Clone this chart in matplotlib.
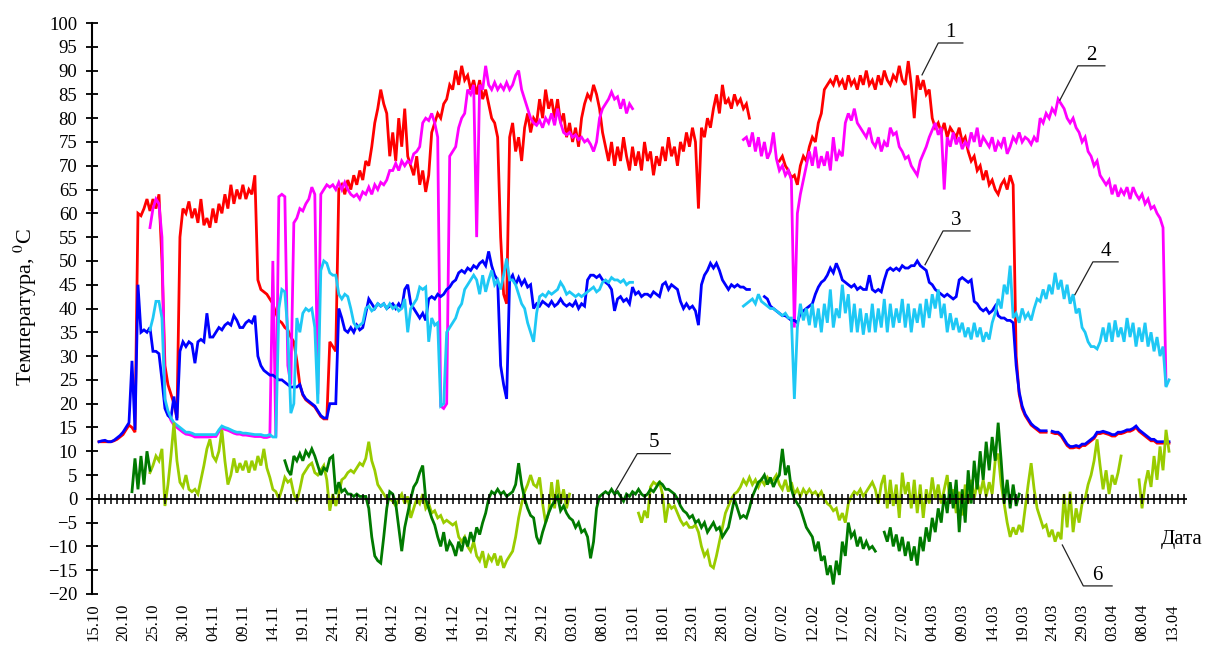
import numpy as np
import matplotlib
matplotlib.use('Agg')
import matplotlib.pyplot as plt

N = None
step = 0.5
days = np.arange(0, 180 + step / 2, step)

date_labels = ['15.10', '20.10', '25.10', '30.10', '04.11', '09.11', '14.11', '19.11', '24.11',
               '29.11', '04.12', '09.12', '14.12', '19.12', '24.12', '29.12', '03.01', '08.01',
               '13.01', '18.01', '23.01', '28.01', '02.02', '07.02', '12.02', '17.02', '22.02',
               '27.02', '04.03', '09.03', '14.03', '19.03', '24.03', '29.03', '03.04', '08.04', '13.04']

s1_red = [
    N, N, 12, 12, 12, 12, 12, 12.2, 12.5, 13, 13.5, 14.5, 15.5, 15, 14, 60, 59.5, 61, 63, 60.5,
    63, 61, 64, 50, 28, 24, 22, 20, 17, 55, 61, 60, 62.5, 59, 61, 58, 63, 57.5, 59, 57,
    61, 58, 62, 60, 64, 61, 66, 62, 65, 63, 66, 63, 65, 64, 68, 46, 44, 43.5, 43, 42,
    41, 39, 37.5, 37, 36, 35.5, 34, 33, 29, 24, 21.8, 20.8, 20.3, 19.8, 19.3, 18.3, 17.3, 16.8, 16.8, 33,
    32, 31, 65, 66, 64, 67, 65, 68, 66, 69, 67, 71, 70, 74, 79, 82, 86, 83, 81, 72,
    77, 71, 80, 74, 82, 72, 70, 68, 72, 66, 69, 64.5, 68, 77, 79, 81, 80, 83, 84, 87,
    86, 90, 87, 91, 88, 89, 86, 88, 85, 88, 84, 86, 83, 80, 79, 76, 55, 43, 41, 76,
    79, 73, 76, 71, 78, 81, 77, 80, 79, 84, 80, 86, 82, 84, 80, 84, 79, 81, 76, 79,
    75, 78, 74, 80, 83, 85, 84, 87, 85, 82, 77, 74, 71, 75, 70, 74, 71, 76, 72, 69,
    74, 70, 73, 69, 75, 71, 73, 68, 72, 70, 74, 71, 76, 72, 74, 70, 75, 73, 77, 74,
    78, 75, 61, 78, 76, 80, 78, 82, 85, 81, 87, 83, 84, 82, 85, 83, 84, 82, 83, 80,
    N, N, N, N, N, N, N, N, N, 71, 72, 70, 69, 67.5, 68, 66, 70, 72, 71, 74,
    76, 75, 79, 81, 86, 87, 88, 87, 89, 87, 88, 86, 89, 87, 88, 86, 89, 87, 90, 87,
    88, 86, 89, 87, 90, 88, 87, 89, 88, 91, 88, 87, 92, 87, 80, 89, 86, 88, 85, 86,
    80, 78, 79, 77, 79, 76, 78, 77, 76, 78, 75, 76, 73, 71, 72, 69, 70, 67, 69, 66,
    67, 65, 64, 66, 67, 65, 68, 66, 30, 22, 19, 17.5, 16.5, 15.5, 15, 14.5, 14, 14, 14, N,
    13.9, 13.7, 13.7, 13.2, 12.2, 11.2, 10.7, 10.7, 10.9, 10.7, 11.2, 11.2, 11.7, 12.2, 12.7, 13.7, 13.7, 13.9, 13.7, 13.5,
    13.2, 13.2, 13.7, 13.7, 13.9, 14.2, 14.2, 14.5, 15, 14.2, 13.7, 13.2, 12.7, 12.2, 12.2, 11.7, 11.7, 11.7, 11.7, 11.7,
    N]

s2_magenta = [
    N, N, N, N, N, N, N, N, N, N, N, N, N, N, N, N, N, N, N, 57,
    61, 63, 62, 55, 20, 18, 16.5, 15.5, 15, 14.5, 14, 13.6, 13.5, 13.3, 13, 13, 13, 13, 13, 13,
    13.1, 13.1, 14.1, 14.9, 14.6, 14.4, 14.1, 13.8, 13.6, 13.6, 13.4, 13.4, 13.3, 13.2, 13.1, 13.1, 13.1, 12.9, 12.9, 13.1,
    50, 13, 63.5, 64, 63.5, 28, 24, 58, 59, 61, 60.5, 62, 63, 65.5, 64, 22, 64, 65, 66, 65.5,
    66, 65, 66.5, 65, 66.5, 65, 64, 63.5, 64, 63, 64.5, 64, 65.5, 64, 66, 65, 66.5, 66, 67, 69,
    69, 70.5, 69, 71, 70, 71, 70.5, 72.5, 73, 74, 79, 80, 79.5, 81, 79, 76, 19.5, 19, 20, 72,
    73, 74, 78, 80, 81, 86, 85, 87, 55, 87, 86, 91, 87, 86, 87.5, 86, 87, 86, 87.5, 86,
    87, 89, 90, 86, 84, 82, 80, 79, 78.5, 79.5, 78, 80, 79, 81, 78.5, 82, 79, 77, 76.5, 77,
    76, 76.5, 75.5, 76, 75, 75.5, 74.5, 73, 75, 80, 82, 83, 84, 85.5, 84, 84.5, 82, 84, 81, 83,
    82, N, N, N, N, N, N, N, N, N, N, N, N, N, N, N, N, N, N, N,
    N, N, N, N, N, N, N, N, N, N, N, N, N, N, N, N, N, 75.5, 76, 74,
    77, 73, 76, 72, 75, 71.5, 73, 77, 71.5, 69, 70, 68, 69, 67, 36, 60, 64, 67, 70, 73,
    70, 74, 69.5, 72, 70, 73, 69, 76, 71, 73, 72, 79, 81, 79.5, 82, 79, 78, 77, 76, 78,
    75, 74, 76, 73, 75, 74, 78, 76.5, 77, 74, 73, 71.5, 72, 70, 69, 68, 71, 72.5, 74, 76,
    77.5, 79, 76.5, 78, 65, 76, 74, 77, 74.5, 76, 73.5, 75, 74, 77, 75, 78, 74, 76, 75, 74,
    76, 73, 75, 74, 76, 72.5, 74, 76, 75, 77, 75, 76, 75.5, 74.5, 76, 75, 80, 79, 81, 80,
    82, 81, 84, 83, 82, 80, 79, 80, 78, 77, 75, 76, 73, 72, 70, 71, 68, 67, 66, 67,
    64, 66, 63.5, 65, 64, 65.5, 63, 65.5, 64, 63, 64, 62, 63, 61, 61.5, 60, 59, 57, 24, N,
    N]

s3_blue = [
    N, N, 12, 12.2, 12.3, 12, 12, 12.3, 12.8, 13.3, 14, 15, 16, 29, 14.5, 45, 35, 35.5, 35, 36,
    31, 31, 30.5, 25, 19, 17.5, 17, 21.5, 16.5, 31, 33, 32, 33, 32.5, 28.5, 33, 33.5, 33, 39, 34,
    34, 35, 36, 35.5, 36.5, 37, 36.5, 38.5, 37.5, 36, 36, 37, 37.5, 37, 38.5, 30, 28, 27, 26.5, 26,
    26, 25.5, 25, 25, 24.5, 24, 23.5, 23.5, 23.5, 24, 22, 21, 20.5, 20, 19.5, 18.5, 17.5, 17, 17, 20,
    20, 20, 40, 38, 35.5, 35, 36, 35, 36.5, 35.5, 36, 39, 42, 41, 40, 41, 40.5, 41, 40, 40.5,
    41, 40, 41, 40, 44, 45, 41, 40, 39, 38, 39, 37.5, 42, 42.5, 42, 43, 42.5, 43, 44, 44.5,
    45.5, 46, 47.5, 48, 47.5, 48.5, 48, 49, 48.5, 49.5, 50, 49, 52, 49, 47, 46, 28, 24, 21, 46,
    47, 45, 46.5, 45, 46, 44.5, 45, 40, 41, 40.5, 41.5, 41, 40.5, 41.5, 40.5, 41, 42, 41, 40.5, 41,
    40.5, 41.5, 40, 41, 40.5, 46, 47, 47, 46.5, 47, 46, 45.5, 45, 44, 39.5, 42, 42.5, 41.5, 42, 41,
    44.5, 43, 43.5, 42.5, 43, 43, 42.5, 43.5, 43, 42.5, 45, 45.5, 44, 45, 44.5, 44, 41.5, 40, 41, 40,
    40.5, 39.5, 36.5, 45, 47, 48, 49.5, 48.5, 49.5, 48, 46, 45, 44, 45, 44.5, 45, 44.5, 44.5, 44, 44,
    N, N, N, N, 42.5, 42, 40.5, 40, 39.5, 39, 38.5, 38.5, 38, 37.5, 37.5, 37, 39, 39.5, 40, 40.5,
    41, 43, 44.5, 45.5, 46, 47, 48.5, 47.5, 49.5, 48, 46, 45.5, 45, 44.5, 45, 44, 44.5, 44, 44, 47,
    44, 43.5, 44, 43.5, 46, 48, 48.5, 48, 48.5, 48, 49, 48.5, 48.5, 49, 49, 50, 49, 48.5, 48, 45.5,
    45, 44, 43.5, 43, 42.5, 43, 42.5, 42, 42.5, 46, 46.5, 46, 45.5, 46, 41.5, 41, 40, 39.5, 40, 39,
    39.5, 40.5, 38.5, 38, 38, 37.5, 37.5, 37, 28, 22.5, 19.5, 17.8, 16.8, 15.8, 15.2, 14.8, 14.3, 14.3, 14.3, N,
    14.2, 14, 14, 13.5, 12.5, 11.5, 11, 11, 11.2, 11, 11.5, 11.5, 12, 12.5, 13, 14, 14, 14.2, 14, 13.8,
    13.5, 13.5, 14, 14, 14.2, 14.5, 14.5, 14.8, 15.3, 14.5, 14, 13.5, 13, 12.5, 12.5, 12, 12, 12, 12, 12,
    N]

s4_cyan = [
    N, N, N, N, N, N, N, N, N, N, N, N, N, N, N, N, N, N, N, 35.5,
    38, 41.5, 41.5, 38, 21, 18.5, 17, 16, 15.5, 15, 14.5, 14, 14, 13.8, 13.5, 13.5, 13.5, 13.5, 13.5, 13.5,
    13.5, 13.5, 14.5, 15.3, 15, 14.8, 14.5, 14.2, 14, 14, 13.8, 13.8, 13.7, 13.6, 13.5, 13.5, 13.5, 13.3, 13.3, 13.5,
    13, 13, 40, 44, 43.5, 35, 18, 20, 38, 35, 39, 40, 39.5, 40, 36, 20, 48, 50, 49.5, 47.5,
    47, 47, 43, 42, 43, 42.5, 40, 37, 36, 36.5, 37, 40, 40.5, 39.5, 40, 41, 40.5, 41, 40, 41,
    40, 40.5, 39.5, 40, 42, 35, 40, 41, 42, 44.5, 44, 44.5, 33, 38, 36.5, 37, 19.5, 20, 35, 36,
    37, 38, 40, 41, 44, 45, 46, 47, 46, 43, 47, 43.5, 46, 48, 45, 46, 44, 47, 50.5, 46,
    46, 45, 43, 41, 40, 37, 35, 33, 39, 42.5, 43, 42.5, 43.5, 43, 43.5, 44, 45.5, 44.5, 43, 43.5,
    43, 42.5, 43, 42.5, 43, 43.5, 44, 44.5, 43.5, 44, 45.5, 46, 45.5, 46.5, 46, 46, 45.5, 46, 45, 45.5,
    45.5, N, N, N, N, N, N, N, N, N, N, N, N, N, N, N, N, N, N, N,
    N, N, N, N, N, N, N, N, N, N, N, N, N, N, N, N, N, 40.5, 41, 41.5,
    42, 41, 43, 41.5, 41, 40.5, 40, 40, 39.5, 39, 38.5, 39, 38, 38, 21, 36, 41, 37.5, 40, 36.5,
    41, 36, 40, 35, 41, 37, 44, 36, 40, 38, 45, 39, 43, 35, 41, 35, 40, 34.5, 39, 35,
    41, 35, 40, 36, 42, 35, 41, 36, 40, 37, 42, 36, 41, 35, 40, 37, 41, 36, 42, 38,
    43, 40, 44, 38, 41, 35, 39, 35.5, 38, 35, 37, 34, 36, 33.5, 37, 34, 36, 33, 35, 33.5,
    37, 39, 42, 40, 45, 43, 49, 38, 39, 37, 40, 38, 39, 37.5, 40, 42, 41.5, 44, 42, 45,
    43, 47.5, 44, 46, 42, 45, 41, 43, 39, 40, 36, 35, 33, 32, 32, 31.5, 33, 36, 33, 37,
    33, 37.5, 34, 36, 33, 38, 34, 37, 32, 36, 33, 37, 32, 35, 31, 34, 30, 32, 23.5, 25,
    N]

s5_darkgreen = [
    N, N, N, N, N, N, N, N, N, N, N, N, N, 1.5, 8.5, 2, 9, 3, 10, 6,
    N, N, N, N, N, N, N, N, N, N, N, N, N, N, N, N, N, N, N, N,
    N, N, N, N, N, N, N, N, N, N, N, N, N, N, N, N, N, N, N, N,
    N, N, N, N, 8, 6, 5, 9, 8, 9.5, 8, 10, 9, 10.5, 9, 7, 5, 6.5, 6, 8.5,
    9, 1, 3.5, 1.5, 2, 1, 1, 0.5, 1, 0.5, 0.5, 0.5, -2, -8, -12, -13, -13.5, -8, -2, 1.5,
    1, -1, -6, -11, -6, -3, 0, 2.5, 3.5, 5.5, 7, 0, -2, -4, -5.5, -8, -10, -7, -11, -9,
    -10, -12, -9, -11, -8, -10, -7, -9, -6, -7.5, -5, -3, 0, 1.5, 1, 2, 1, 1.5, 0.5, 1,
    1.5, 3, 7.5, 3, 0, -2, -3.5, -4, -8, -9.5, -7, -5, -3, -1.5, -0.5, 0.5, -2.5, -1.5, -3, -4,
    -4.5, -6, -5, -7, -6.5, -8, -12.5, -9, -2, 0.5, 1, 1.5, 1, 2, 1, 1.5, 0.5, -0.5, 1, 0.5,
    1.5, 1, 2, 1, 0.5, 1, 2, 1.5, 2.5, 3.5, 3, 2, 2, 1.5, 1, 0, -1.5, -2.5, -3, -4,
    -3.5, -5, -4.5, -6, -5, -7, -6, -5, -6.5, -6, -8, -7, -6, -3, 0, -2, -4, -3.5, -4, -2,
    0.5, 2, 3.5, 4, 5, 3, 4.5, 2.5, 4, 5, 10.5, 5, 7, 2, 0, -1, -2, -4, -6, -7,
    -8, -11, -9, -13, -12, -16, -14, -18, -13, -16, -9, -12, -5, -8, -7, -10, -8, -10.5, -9, -10.5,
    -10, -11, N, N, -7, -9, -6, -10, -7.5, -11, -8, -12, -9, -13, -10, -14, -8, -11, -6, -9,
    -4, -7, -2, -5, 1, -3, 3.5, -2, 4, -7, 2, -5, 6, -1, 8, 2, 10, 4, 12, 6,
    13, 8, 16, 8, -1, 4, -2, 3, -1.5, 1, N, N, N, N, N, N, N, N, N, N,
    N, N, N, N, N, N, N, N, N, N, N, N, N, N, N, N, N, N, N, N,
    N, N, N, N, N, N, N, N, N, N, N, N, N, N, N, N, N, N, N, N,
    N]

s6_lime = [
    N, N, N, N, N, N, N, N, N, N, N, N, N, N, N, N, N, N, N, 5.5,
    7, 9, 8, 10.5, -1.5, 3, 9, 16, 8, 3.5, 2.5, 5, 2, 1.5, 2, 1, 4, 7, 10.5, 12.5,
    9, 8, 10, 14.5, 8, 3, 5, 8.5, 5.5, 7.5, 6, 8, 5.5, 8, 6, 9, 7, 10.5, 6.5, 4.5,
    2, 1.5, 0, 2, 4.5, 3.5, 4, 1, -0.5, 2, 5, 6, 7, 7.5, 5.5, 5, 6, 7, 4, -2.5,
    1, -1.5, 1, 4, 4.5, 5.5, 6, 5.5, 6.5, 7.5, 7, 8.5, 12, 8, 6, 3, 2, 1, 0, 0,
    -0.5, -1.5, 0, 1, -1, 0.5, -4, -2, 0, -1, 1, -2, -1, -3, -2.5, -4, -3.5, -5, -4.5, -5,
    -5.5, -5, -8, -9, -8, -10, -11, -9, -12, -13, -11, -14.5, -12, -13, -11.5, -14, -12, -14.5, -13, -12,
    -11, -8, -4, -1, 1.5, 3, 5, 3, 2.5, 4.5, -1, -5, -3, 3.5, -2, 4, -1, 2, -2, 1,
    N, N, N, N, N, N, N, N, N, N, N, N, N, N, N, N, N, N, N, N,
    N, N, -3, -5, -2.5, -4, 2.5, 3.5, 3, 3.5, 1, -5, -1, -2, -1.5, -3, -4.5, -5.5, -5, -6,
    -6, -5.5, -7, -10, -12, -11, -14, -14.5, -12, -9, -6, -3, -1.5, 0, 1, 1.5, 2.5, 4, 3, 4.5,
    3, 4, 2.5, 4, 3, 4.5, 3.5, 4, 5, 3, 2, 4, 1.5, 3.5, 1, 2, 0.5, 2, 1, 2,
    1, 1.5, 0.5, 1.5, 0, -1, -1.5, -2.5, -2, -4.5, -3, -5, -1, 0.5, 1.5, 1, 2, 0.5, 1.5, 2.5,
    3.5, 2, -1, 3, 5, -2, 4, -1.5, 3, -4, 5.5, 1, 3.5, -2, 4, -3, 3, -4, 2, -1,
    4.5, 0, 3, -1, 2, 5, -1, 2, -3, 1.5, -3.5, 3, -1, 4, 0, 3.5, 1, 4, 0.5, 3.5,
    1, 8, 9.5, 3, -1, -5, -8, -6, -7.5, -5.5, -7, -2, 3, 7.5, 2, -2, -4, -6, -5.5, -8,
    -6.5, -9, -7, -8.5, 1, -6, 1.5, -7, -2, -5, -1, 0, 3, 5, 8, 12.5, 7, 2, 6, 1,
    5, 3, 5.5, 9, N, N, N, N, N, 4, -2, 3, 6, 2.5, 9, 4, 11, 6, 14.5, 10,
    N]

series = [
    (s1_red, '#FF0000'),
    (s2_magenta, '#FF00FF'),
    (s3_blue, '#0000FF'),
    (s4_cyan, '#1EC8F5'),
    (s6_lime, '#99CC00'),
    (s5_darkgreen, '#007A00'),
]

plt.rcParams['font.family'] = ['Liberation Serif', 'DejaVu Serif']
plt.rcParams['mathtext.fontset'] = 'stix'

W, H = 1207, 648
fig = plt.figure(figsize=(W / 100, H / 100), dpi=100)
ax = fig.add_axes([92 / W, 1 - 594 / H, (1187 - 92) / W, (594 - 23) / H])

for vals, col in series:
    arr = np.array(vals, dtype=float)
    assert len(arr) == len(days), (col, len(arr))
    ax.plot(days, arr, color=col, lw=2.0, solid_joinstyle='miter', zorder=3)

ax.set_xlim(-0.17, 182.5)
ax.set_ylim(-20, 100)

# zero axis line with small tick marks (one per day)
ax.axhline(0, color='black', lw=1.3, zorder=4)
tick_days = np.arange(1, 182.4, 1.0)
ax.plot(tick_days, np.zeros_like(tick_days), ls='none', marker='|', ms=7,
        mew=1.1, color='black', zorder=4, clip_on=False)

for side in ['top', 'right', 'bottom']:
    ax.spines[side].set_visible(False)
ax.spines['left'].set_linewidth(1.5)

ax.set_yticks(np.arange(-20, 101, 5))
ax.tick_params(axis='y', direction='inout', length=9, width=1.3, labelsize=13.5, pad=6)
ax.set_xticks(np.arange(0, 181, 5))
ax.set_xticklabels(date_labels, rotation=90, fontsize=12)
ax.tick_params(axis='x', length=0, pad=7)

fig.text(0.021, 0.527, 'Температура, $^{0}$C', rotation=90, fontsize=16,
         ha='center', va='center')
ax.text(178.2, -8.6, 'Дата', fontsize=15, ha='left', va='center', clip_on=False)

# curve number labels with leader lines
leaders = [
    ('1', 138.3, 89.1, 141.0, 145.1, 95.8),
    ('2', 161.3, 83.8, 164.3, 168.8, 91.0),
    ('3', 138.8, 49.2, 141.8, 146.3, 56.3),
    ('4', 163.8, 42.9, 166.8, 171.0, 49.8),
    ('5', 87.1, 1.5, 90.8, 96.3, 9.5),
    ('6', 161.7, -9.7, 165.2, 170.0, -18.3),
]
for lab, xe, ye, x0, x1, yl in leaders:
    ax.plot([xe, x0, x1], [ye, yl, yl], color='#222222', lw=0.9, zorder=5, clip_on=False)
    ax.text((x0 + x1) / 2, yl + 1.3, lab, fontsize=15, ha='center', va='baseline', zorder=5)

fig.savefig('out.png', dpi=100)
